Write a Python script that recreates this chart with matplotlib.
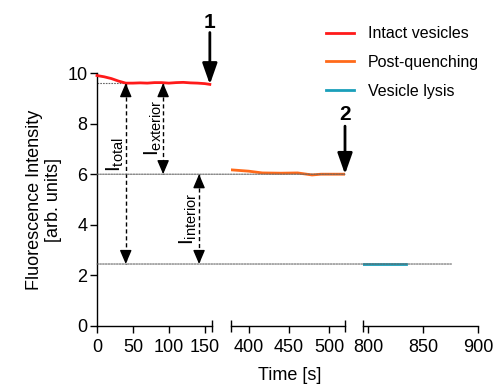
import matplotlib
matplotlib.use("Agg")
import matplotlib.pyplot as plt
from matplotlib.patches import ConnectionPatch

plt.rcParams['font.family'] = ['Liberation Sans', 'DejaVu Sans']
plt.rcParams['mathtext.fontset'] = 'custom'
plt.rcParams['mathtext.rm'] = 'Liberation Sans'
plt.rcParams['mathtext.it'] = 'Liberation Sans'

# ---- data ----
t_intact = [0, 10, 20, 30, 40, 50, 60, 70, 80, 90, 100, 110, 120, 130, 140, 150, 157]
f_intact = [9.9, 9.85, 9.78, 9.68, 9.6, 9.6, 9.61, 9.6, 9.62, 9.62, 9.6, 9.62, 9.63, 9.61, 9.6, 9.58, 9.55]
t_quench = [379, 400, 417, 440, 461, 479, 490, 500, 520]
f_quench = [6.17, 6.12, 6.05, 6.04, 6.05, 5.97, 6.0, 6.0, 6.0]
t_lysis = [795, 810, 820, 834]
f_lysis = [2.45, 2.45, 2.45, 2.45]

I_total_level = 9.6
I_quench_level = 6.0
I_lysis_level = 2.45

seg_limits = [(0, 160), (378, 520), (795, 900)]
seg_ticks = [[0, 50, 100, 150], [400, 450, 500], [800, 850, 900]]
yticks = [0, 2, 4, 6, 8, 10]

c_red = '#FF1A1A'
c_orange = '#FF6A1A'
c_cyan = '#1A9FBA'

fig = plt.figure(figsize=(4.96, 3.85), dpi=100)
bottom = 59 / 385
height = 253 / 385
lefts = [97 / 496, 231 / 496, 363 / 496]
widths = [115 / 496, 114 / 496, 115 / 496]
axes = [fig.add_axes([l, bottom, w, height]) for l, w in zip(lefts, widths)]

for i, ax in enumerate(axes):
    ax.set_xlim(*seg_limits[i])
    ax.set_ylim(0, 10)
    ax.set_xticks(seg_ticks[i])
    ax.tick_params(axis='x', labelsize=13, length=5, width=1, direction='out', pad=4)
    ax.spines['top'].set_visible(False)
    ax.spines['right'].set_visible(False)
    ax.spines['bottom'].set_linewidth(1)
    ax.patch.set_alpha(0)
    if i == 0:
        ax.set_yticks(yticks)
        ax.tick_params(axis='y', labelsize=13, length=5, width=1, pad=2)
        ax.spines['left'].set_linewidth(1)
        ax.set_xticks([seg_limits[i][1]], minor=True)
    else:
        ax.spines['left'].set_visible(False)
        ax.set_yticks([])
        ax.set_xticks(list(seg_limits[i]) if i == 1 else [seg_limits[i][0]], minor=True)
    ax.tick_params(axis='x', which='minor', direction='inout', length=9, width=1)

ax1, ax2, ax3 = axes

ax1.plot(t_intact, f_intact, color=c_red, lw=2, label='Intact vesicles', zorder=3, clip_on=False)
ax2.plot(t_quench, f_quench, color=c_orange, lw=2, label='Post-quenching', zorder=3)
ax3.plot(t_lysis, f_lysis, color=c_cyan, lw=2, label='Vesicle lysis', zorder=3)

# dotted reference lines
dot = dict(color='#666666', lw=0.8, linestyle=(0, (1.5, 1)))
ax1.plot([0, 40], [I_total_level, I_total_level], **dot, zorder=1)
for (axB, xB, y) in [(ax2, t_quench[-1], I_quench_level), (ax3, 876, I_lysis_level)]:
    cp = ConnectionPatch(xyA=(0, y), coordsA='data', axesA=ax1,
                         xyB=(xB, y), coordsB='data', axesB=axB, **dot, zorder=1)
    fig.add_artist(cp)

# double-headed dashed arrows
def dbl_arrow(ax, x, y0, y1):
    ax.plot([x, x], [y0, y1], color='k', lw=1, linestyle=(0, (3, 2)), zorder=2)
    hp = dict(arrowstyle='-|>,head_width=0.3,head_length=0.7', color='k', lw=1,
              shrinkA=0, shrinkB=0, mutation_scale=12)
    ax.annotate('', xy=(x, y0), xytext=(x, y0 - 0.5), arrowprops=hp)
    ax.annotate('', xy=(x, y1), xytext=(x, y1 + 0.5), arrowprops=hp)

dbl_arrow(ax1, 40, I_total_level, I_lysis_level)
dbl_arrow(ax1, 92, I_total_level, I_quench_level)
dbl_arrow(ax1, 142, I_quench_level, I_lysis_level)

lab = dict(rotation=90, ha='center', va='center', fontsize=15)
ax1.text(25, 6.76, r'I$_{\mathrm{total}}$', **lab)
ax1.text(78, 7.83, r'I$_{\mathrm{exterior}}$', **lab)
ax1.text(127, 4.23, r'I$_{\mathrm{interior}}$', **lab)

# event arrows
big = dict(arrowstyle='-|>,head_width=0.3,head_length=0.85', color='k', lw=2,
           shrinkA=0, shrinkB=0, mutation_scale=15)
ax1.annotate('', xy=(t_intact[-1], f_intact[-1]), xytext=(t_intact[-1], 11.6),
             arrowprops=big, annotation_clip=False)
ax1.text(t_intact[-1], 11.62, '1', ha='center', va='bottom', fontsize=15, fontweight='bold', clip_on=False)
ax2.annotate('', xy=(t_quench[-1], f_quench[-1]), xytext=(t_quench[-1], 7.9),
             arrowprops=big, annotation_clip=False)
ax2.text(t_quench[-1], 7.98, '2', ha='center', va='bottom', fontsize=15, fontweight='bold', clip_on=False)

ax1.set_ylabel('Fluorescence Intensity\n[arb. units]', fontsize=13, labelpad=4, linespacing=1.1)
fig.text(290 / 496, 1 - 375 / 385, 'Time [s]', ha='center', va='center', fontsize=13)

handles = [ax1.lines[0], ax2.lines[0], ax3.lines[0]]
fig.legend(handles, [h.get_label() for h in handles], loc='upper left',
           bbox_to_anchor=(320 / 496, 1 - 20 / 385), frameon=False, fontsize=11.5,
           handlelength=1.75, handletextpad=0.85, labelspacing=0.85, borderaxespad=0)

fig.savefig('out.png', dpi=100)
